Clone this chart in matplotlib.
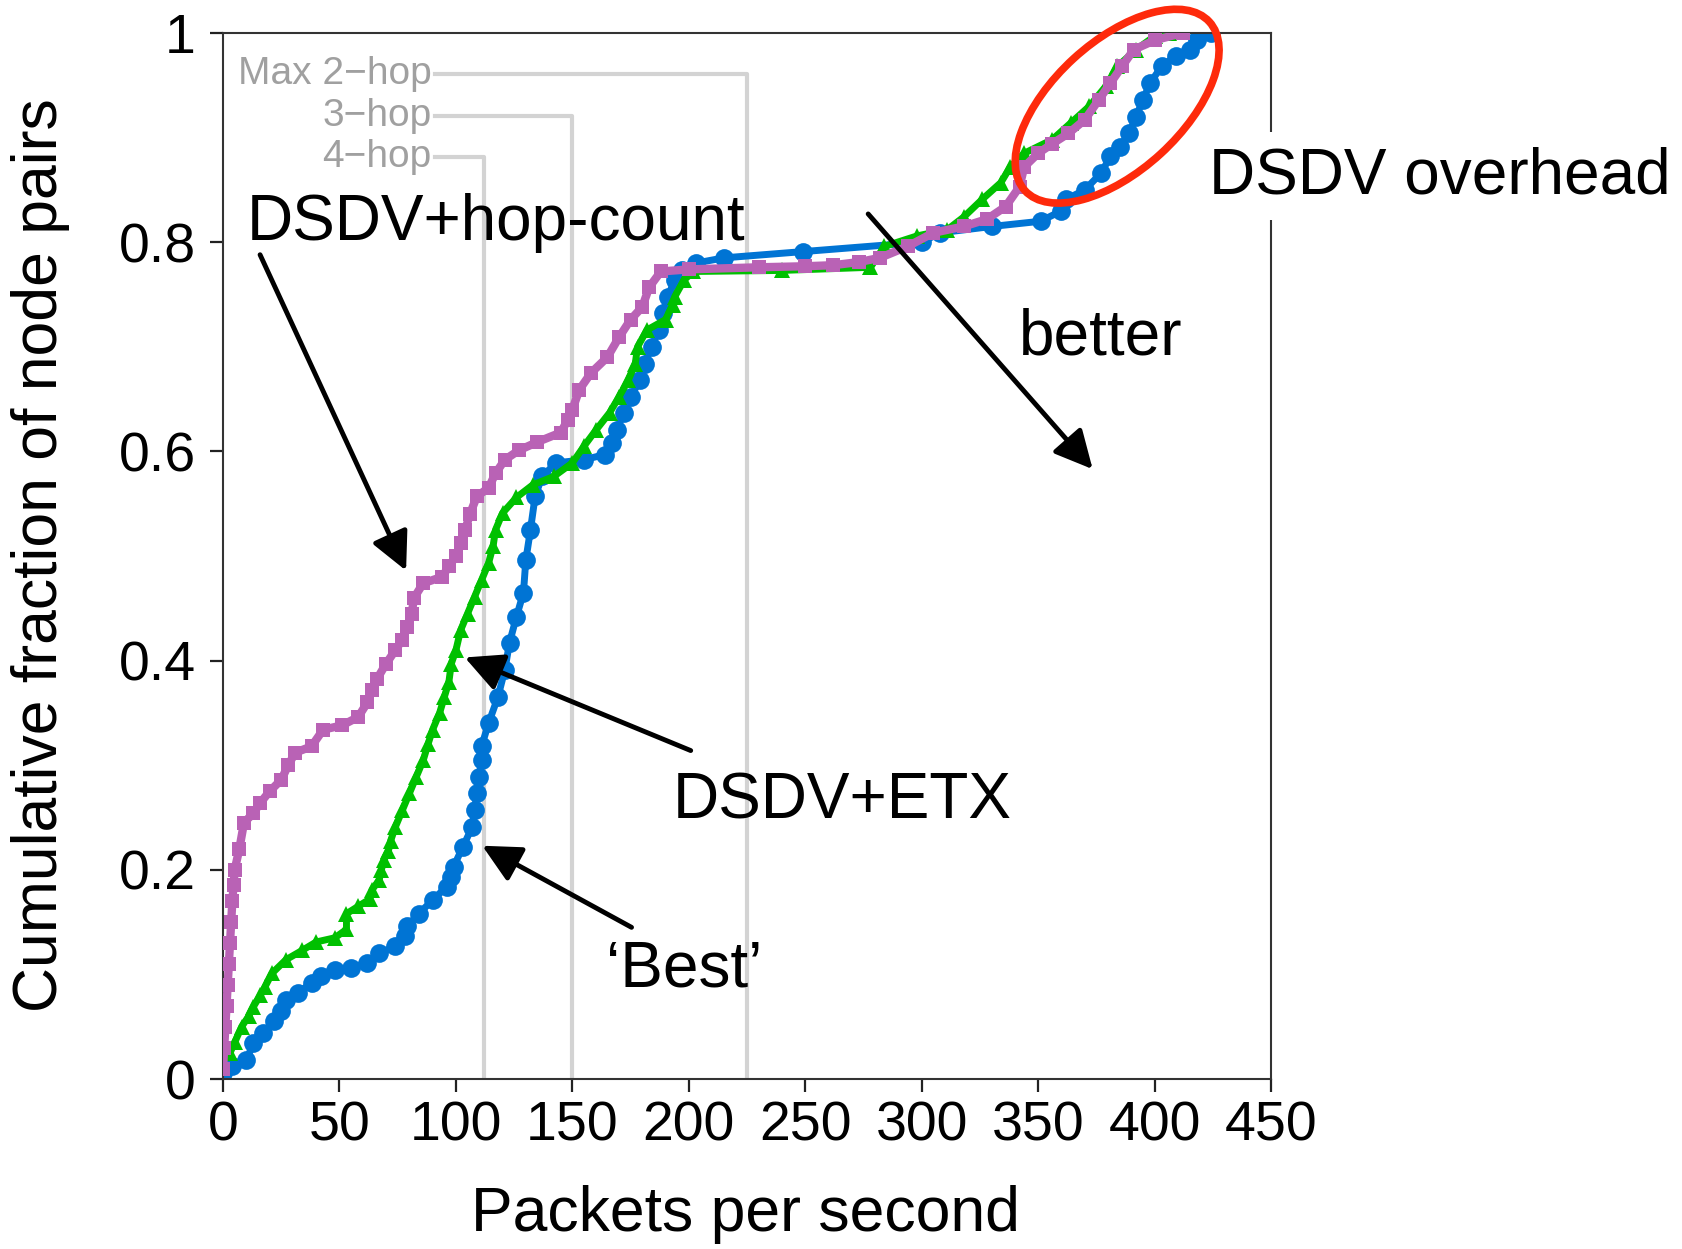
import matplotlib
matplotlib.use('Agg')
import matplotlib.pyplot as plt
from matplotlib.patches import Ellipse
from matplotlib.transforms import ScaledTranslation

plt.rcParams['font.family'] = ['Liberation Sans', 'DejaVu Sans']

# 'Best' route (blue circles)
best_x = [0, 4, 10, 13, 17, 22, 25, 27, 32, 38, 42, 48, 55, 62, 67, 74, 78, 79, 84, 90,
          96, 98, 99, 103, 107, 108, 109, 110, 111, 111, 114, 118, 121, 123, 126, 129,
          130, 132, 134, 137, 143, 155, 164, 167, 169, 172, 175, 179, 181, 184, 187, 189,
          191, 194, 197, 203, 215, 249, 300, 308, 330, 351, 360, 362, 370, 377, 381, 385,
          389, 392, 395, 398, 403, 409, 415, 418, 424]
best_y = [0.006, 0.012, 0.018, 0.034, 0.044, 0.055, 0.065, 0.076, 0.082, 0.092, 0.098,
          0.104, 0.106, 0.111, 0.12, 0.127, 0.137, 0.146, 0.158, 0.171, 0.184, 0.193,
          0.203, 0.222, 0.241, 0.257, 0.273, 0.289, 0.305, 0.318, 0.34, 0.365, 0.391,
          0.417, 0.442, 0.465, 0.496, 0.525, 0.557, 0.576, 0.589, 0.592, 0.597, 0.608,
          0.62, 0.637, 0.652, 0.668, 0.684, 0.70, 0.716, 0.732, 0.748, 0.764, 0.773,
          0.78, 0.785, 0.791, 0.80, 0.809, 0.815, 0.82, 0.83, 0.841, 0.85, 0.866, 0.882,
          0.891, 0.904, 0.92, 0.936, 0.952, 0.968, 0.978, 0.984, 0.993, 1.0]

# DSDV+ETX (green triangles)
etx_x = [3, 5, 8, 11, 13, 16, 18, 21, 27, 34, 40, 48, 53, 53, 58, 63, 64, 67, 68, 69, 71,
         72, 74, 77, 80, 83, 86, 88, 90, 93, 95, 97, 98, 100, 102, 105, 108, 111, 114,
         116, 117, 120, 126, 133, 142, 150, 155, 160, 166, 170, 174, 177, 178, 182, 190,
         193, 194, 198, 202, 240, 278, 284, 298, 311, 318, 326, 334, 338, 344, 356, 364,
         372, 379, 384, 392, 400, 406]
etx_y = [0.025, 0.035, 0.05, 0.06, 0.069, 0.08, 0.088, 0.101, 0.114, 0.123, 0.131, 0.135,
         0.143, 0.158, 0.165, 0.172, 0.181, 0.19, 0.20, 0.209, 0.218, 0.228, 0.241, 0.257,
         0.273, 0.289, 0.305, 0.32, 0.334, 0.35, 0.365, 0.38, 0.397, 0.41, 0.429, 0.445,
         0.461, 0.477, 0.493, 0.51, 0.525, 0.541, 0.556, 0.568, 0.576, 0.589, 0.605, 0.62,
         0.637, 0.652, 0.668, 0.684, 0.70, 0.716, 0.726, 0.74, 0.748, 0.764, 0.772, 0.773,
         0.776, 0.796, 0.806, 0.812, 0.824, 0.841, 0.857, 0.872, 0.885, 0.898, 0.914,
         0.93, 0.949, 0.968, 0.984, 0.997, 1.0]

# DSDV+hop-count (purple squares)
hop_x = [0, 0.5, 1, 1.5, 2, 2.5, 3, 3.5, 4, 4.5, 5, 7, 9, 13, 16, 20, 25, 28, 31, 38, 43,
         51, 58, 62, 64, 66, 70, 74, 77, 79, 81, 82, 86, 94, 97, 100, 102, 104, 106, 109,
         114, 117, 121, 127, 135, 145, 148, 150, 153, 158, 165, 170, 175, 180, 183, 188,
         200, 230, 250, 262, 273, 282, 294, 305, 318, 328, 336, 342, 344, 350, 356, 363,
         370, 376, 381, 386, 391, 400, 412]
hop_y = [0.01, 0.03, 0.05, 0.07, 0.09, 0.11, 0.13, 0.15, 0.17, 0.185, 0.20, 0.22, 0.245,
         0.254, 0.264, 0.275, 0.286, 0.30, 0.312, 0.318, 0.334, 0.338, 0.346, 0.36, 0.372,
         0.382, 0.397, 0.41, 0.42, 0.432, 0.445, 0.46, 0.474, 0.48, 0.49, 0.50, 0.512,
         0.525, 0.54, 0.557, 0.565, 0.579, 0.592, 0.601, 0.609, 0.618, 0.63, 0.64, 0.659,
         0.675, 0.69, 0.709, 0.726, 0.738, 0.757, 0.772, 0.774, 0.776, 0.777, 0.778,
         0.781, 0.785, 0.796, 0.809, 0.815, 0.822, 0.834, 0.853, 0.872, 0.885, 0.894,
         0.904, 0.917, 0.936, 0.952, 0.968, 0.984, 0.993, 1.0]

x_ticks = [0, 50, 100, 150, 200, 250, 300, 350, 400, 450]
y_ticks = [0, 0.2, 0.4, 0.6, 0.8, 1]
y_tick_labels = ['0', '0.2', '0.4', '0.6', '0.8', '1']

# max throughput limits for 2, 3, 4 hop routes
hop_names = ['Max 2\u2212hop', '3\u2212hop', '4\u2212hop']
hop_limits = [225, 150, 112]
hop_levels = [0.961, 0.921, 0.881]

fig = plt.figure(figsize=(16.82, 12.49), dpi=100)
ax = fig.add_axes([0.1326, 0.1361, 0.6231, 0.8375])

# gray reference lines
for name, lim, lev in zip(hop_names, hop_limits, hop_levels):
    ax.plot([91, lim, lim], [lev, lev, 0], color='#d3d3d3', lw=3, zorder=1)
    ax.text(89.5, lev, name, ha='right', va='center', fontsize=28, color='#a0a0a0',
            zorder=1)

ax.plot(best_x, best_y, color='#0074d4', lw=5, marker='o', ms=13.5, mew=0, zorder=2,
        solid_joinstyle='round')
ax.plot(etx_x, etx_y, color='#00c000', lw=5, marker='^', ms=11, mew=0, zorder=3,
        solid_joinstyle='round')
ax.plot(hop_x, hop_y, color='#b962b5', lw=6, marker='s', ms=10.5, mew=0, zorder=4,
        solid_joinstyle='miter')

ax.set_xlim(0, 450)
ax.set_ylim(0, 1)
ax.set_xticks(x_ticks)
ax.set_yticks(y_ticks)
ax.set_yticklabels(y_tick_labels)
ax.tick_params(direction='out', length=9.5, width=1.6, labelsize=40, color='#222222')
ax.tick_params(axis='x', pad=6)
ax.tick_params(axis='y', pad=10)
for s in ax.spines.values():
    s.set_linewidth(1.5)
    s.set_color('#333333')

ax.set_xlabel('Packets per second', fontsize=45, va='center')
ax.xaxis.set_label_coords(0.4986, -0.130)
ax.set_ylabel('Cumulative fraction of node pairs', fontsize=45, va='center')
ax.yaxis.set_label_coords(-0.1737, 0.501)

# annotations
fs = 46
ax.text(10.3, 0.802, 'DSDV+hop-count', fontsize=fs, va='baseline', zorder=6)
ax.text(193, 0.249, 'DSDV+ETX', fontsize=fs, va='baseline', zorder=6)
ax.text(164.5, 0.088, '\u2018Best\u2019', fontsize=fs, va='baseline', zorder=6)
ax.text(341.8, 0.693, 'better', fontsize=fs, va='baseline', zorder=6)
ax.text(423.4, 0.847, 'DSDV overhead', fontsize=fs, va='baseline', zorder=6,
        clip_on=False, bbox=dict(facecolor='white', edgecolor='none', pad=10))

arrow = dict(arrowstyle='-|>,head_length=0.4,head_width=0.2', mutation_scale=58,
             lw=3.5, color='black', shrinkA=0, shrinkB=0)
ax.annotate('', xy=(78.6, 0.486), xytext=(15.9, 0.788), arrowprops=arrow, zorder=6)
ax.annotate('', xy=(103.8, 0.403), xytext=(200.8, 0.314), arrowprops=arrow, zorder=6)
ax.annotate('', xy=(111.3, 0.223), xytext=(175.4, 0.145), arrowprops=arrow, zorder=6)
ax.annotate('', xy=(373.4, 0.583), xytext=(277, 0.827), arrowprops=arrow, zorder=6)

# red ellipse round the DSDV overhead region
ell = Ellipse((0, 0), 2.5, 1.29, angle=42.5, fill=False, edgecolor='#fe2a0b', lw=5.5,
              clip_on=False, zorder=7,
              transform=fig.dpi_scale_trans + ScaledTranslation(383.9, 0.93, ax.transData))
ax.add_artist(ell)

fig.savefig('out.png', dpi=100)
